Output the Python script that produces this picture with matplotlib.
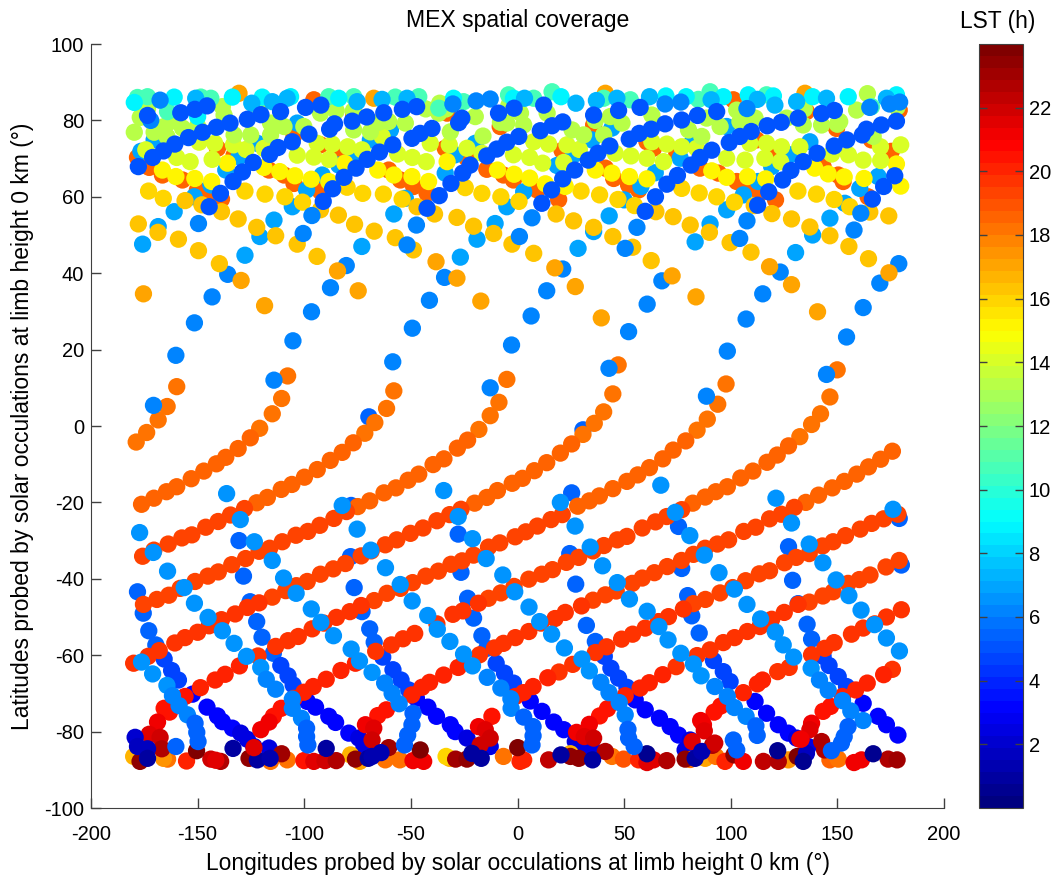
# MEX solar occultation coverage, lon/lat coloured by local solar time
import matplotlib
matplotlib.use('Agg')
import matplotlib.pyplot as plt
from matplotlib.colors import LinearSegmentedColormap, Normalize
from matplotlib.cm import ScalarMappable

plt.rcParams['font.family'] = ['Liberation Sans', 'DejaVu Sans']
plt.rcParams['axes.unicode_minus'] = False

# dusk tracks going up to the right, (lon, lat), one list per colour band
dusk_180 = [(-178.8,-4.2),(-173.9,-1.7),(-168.5,1.6),(-164.3,5.1),(-159.8,10.3),(-120.9,-0.6),(-115,3.2),(-110.6,7.2),(-107.8,13.1),
    (-71.6,-1.9),(-66.9,0.9),(-61.4,4.6),(-58,9.2),(-18.1,-0.9),(-12.8,2.7),(-8.7,6.2),(-5,12.2),(30.7,-2.2),(36,0.7),(40.4,3.7),(44.7,8.4),(47.2,16),
    (84.2,-1.1),(89,1.8),(93.9,5.7),(97.8,11),(132.4,-2.8),(137.9,0.4),(142.1,3.2),(146.5,7.6),(149.9,14.7)]
dusk_185 = [(-176.3,-20.5),(-170.5,-18.9),(-164.6,-17.2),(-159.8,-15.9),(-153,-13.8),(-147.1,-11.8),(-141.2,-9.9),(-136.8,-8.2),(-131,-5.9),(-125.3,-3.1),
    (-122.3,-20.1),(-117.3,-18.7),(-110.8,-16.6),(-105.8,-15.3),(-99.9,-13.4),(-93.9,-11.4),(-87.8,-9),(-82.2,-6.9),(-77,-4.4),
    (-74.9,-21.1),(-69.3,-19.6),(-62.6,-17.5),(-57,-16.2),(-51.3,-14.2),(-46.3,-12.6),(-39.6,-10.1),(-34.5,-8.6),(-28.2,-5.8),(-23.4,-3.7),
    (-20.1,-20.2),(-14.4,-18.7),(-9.4,-16.9),(-2.5,-15),(2.3,-13.7),(7.9,-11.7),(13.7,-9.6),(20.1,-7.1),(25.4,-4.7),
    (28.2,-21),(33.7,-19.6),(38.4,-18.3),(44.7,-16.4),(51.3,-14.5),(56.4,-12.8),(61.9,-10.9),(68.1,-8.6),(73,-6.3),(78.9,-3.9),
    (82.2,-20.2),(88,-18.6),(93,-17.2),(98.4,-15.9),(104.7,-13.6),(110.4,-11.8),(117,-9.5),(121.8,-7.6),(127.1,-5.2),
    (135.2,-20),(141.2,-18.1),(147.6,-16.2),(153.3,-14.5),(159.1,-12.6),(164.6,-10.7),(170.3,-8.7),(175.8,-6.6)]
dusk_191 = [(-175.8,-34.1),(-170.5,-32.5),(-163.8,-30.9),(-157.4,-29.3),(-152.7,-28.5),(-146.2,-26.5),(-140.4,-25),(-134.6,-23.3),(-128,-21.6),
    (-175.4,-46.7),(-169.1,-45.4),(-163.5,-44.3),(-158.2,-42.5),(-151.2,-40.7),(-145.2,-39.3),(-140.3,-38.2),(-134,-36.3),(-127.5,-34.7),(-121.2,-32.8),(-116.2,-32),(-110.3,-30.3),(-103.9,-28.6),(-98.3,-27.6),(-92.7,-26),(-86.1,-24.2),(-80.2,-22.4),
    (-115,-44.8),(-108.7,-43.1),(-103.7,-41.8),(-98.6,-40.7),(-92.4,-38.8),(-86.4,-37.4),(-80.7,-36),(-73.3,-34),(-68.6,-32.7),(-62,-31.1),(-56.6,-29.8),(-50.2,-28.1),(-44.3,-26.7),(-37.8,-24.8),(-31.8,-23.2),(-26.5,-21.8),
    (-67.2,-45.7),(-61.2,-43.8),(-54.9,-42.5),(-49.2,-41),(-43,-39.3),(-37.1,-38),(-31.2,-36.2),(-26,-35.3),(-20.6,-33.8),(-13.6,-31.7),(-8.3,-30.6),(-1.1,-29),(3.9,-27.7),(9.3,-26.2),(15.7,-24.5),(21,-23.2),
    (-13.6,-45.1),(-7.8,-43.7),(-1.6,-42),(5.3,-40.1),(11.4,-38.8),(16.4,-37.6),(22.9,-35.7),(28.7,-34.4),(35.4,-32.7),(40.5,-31.3),(46.8,-29.8),(51.3,-28.9),(58.5,-26.7),(64.7,-25.1),(70,-23.7),(77,-21.9),
    (35.4,-45.6),(41.2,-44.2),(46.3,-43.2),(53.8,-41.2),(58.5,-39.8),(64.2,-38.4),(70.2,-36.8),(76.9,-35.2),(82.5,-33.6),(88,-32),(93.7,-30.9),(99,-29.8),(106.1,-27.6),(111.7,-26.5),(118.2,-24.3),(123.7,-23.1),(129.8,-21.3),
    (82.5,-46.5),(88.1,-45.4),(95,-43.7),(100.9,-42.3),(107,-40.5),(113.4,-38.7),(118.2,-37.9),(125.2,-35.8),(130.7,-34.4),(136.8,-33.4),(143,-31.4),(148,-30.3),(153.8,-28.7),(160.7,-27),(166.1,-25.5),(171.7,-24.3),(178.4,-23.1),
    (136.8,-46.1),(143.2,-44.5),(148,-43.4),(155,-41.2),(160.3,-40.2),(165.3,-39),(172.8,-36.9),(179,-35.2)]
dusk_195 = [(-180,-62.1),(-173.2,-60.3),(-168,-58.8),(-160.7,-56.8),(-155.9,-55.4),(-150,-54),(-144.6,-52.3),(-138.8,-50.7),(-132.4,-49.2),(-126.7,-47.5),(-121.2,-46.3),
    (-121.7,-60.2),(-113.4,-57.7),(-107.6,-56.2),(-102.8,-55.1),(-96.3,-53.1),(-90.8,-51.6),(-84.9,-50.1),(-78.6,-48.6),(-73.3,-47),
    (-66.5,-59),(-59.1,-57.3),(-53.7,-55.7),(-48.2,-54.3),(-37.8,-51.8),(-30.3,-49.3),(-25.6,-48.4),(-18.3,-46.4),
    (-17.8,-59.9),(-10.8,-58.1),(-6.6,-56.9),(-1,-55.4),(5.3,-53.8),(11,-51.6),(17.6,-50.4),(22.4,-48.8),(30,-47.1),
    (25.9,-62.4),(36.5,-59.3),(41.8,-57.8),(48.8,-55.8),(54,-54.5),(59.9,-52.9),(66.1,-51.2),(70.8,-49.9),(77.8,-47.9),
    (74.4,-63),(84.2,-60.1),(90.3,-58.6),(96.5,-56.7),(101.8,-55.4),(107.8,-53.8),(113.7,-52.5),(119.2,-50.6),(125.1,-48.8),(131.6,-46.7),
    (122,-64.3),(127.4,-63.2),(137.9,-59.9),(144.1,-58.2),(148.5,-56.7),(156.6,-54.5),(162.1,-52.9),(167.5,-51.8),(173,-50),(180,-48.1),
    (175.8,-63.7),(19.5,-64.4)]
dusk_200 = [(-148.7,-68.5),(-141.8,-66.5),(-137.1,-65),(-130.4,-62.8),(-104.8,-71.3),(-100.2,-69.7),(-95.8,-68.2),(-89.7,-66.3),(-82.8,-64),(-76,-62.1),
    (-49.5,-70.4),(-44.8,-68.4),(-41.2,-67.1),(-34.6,-65.2),(-27.8,-63.2),(-1,-70.8),(2.8,-69.8),(7.3,-68.2),(14.2,-65.9),
    (50.5,-70.6),(57.5,-68.6),(61.8,-67.2),(68.1,-65.1),(105.9,-69.8),(112.5,-67.5),(114.9,-66.5),(152.4,-70.8),(158.6,-69.1),(164,-67.3),(171.7,-65.1)]
dusk_207 = [(-155.9,-70.8),(-165.7,-73.9),(-163.2,-74.9),(-110.8,-73.9),(-114.5,-76),(-61.5,-74.3),(-65.5,-75.8),(-12,-76),(42.2,-74),(38.5,-75.9),
    (95.3,-73.3),(92.2,-74.9),(146.8,-73.4),(143.3,-74.7)]
dusk_212 = [(-168.8,-77.5),(-116.5,-77.5),(-120.4,-79.5),(-71.3,-78.2),(-18.3,-78.7),(33.7,-78.1),(27.7,-80.2),(85.9,-77.1),(87.2,-78.2),(137.9,-77.8),(132.4,-82)]
dusk_218 = [(-172.7,-80.7),(-67.4,-79.1),(-15.1,-79.5),(31.3,-81.3),(87.6,-79.8),(137.1,-79.5),(81.9,-82.6)]

# dawn tracks going down to the right, dark ones
dawn_53 = [(-178.2,-43.4),(-175.5,-49),(-172.9,-53.6),(-169.6,-57.3),(-130.6,-30),(-128.5,-39.3),(-125.4,-46),(-122.3,-51.2),(-119.8,-55.3),(-114.5,-59.5),
    (-76.6,-42.3),(-78.3,-34.2),(-78,-20.8),(-72.9,-48.6),(-69.3,-53.1),(-67.2,-56.6),(-27.8,-28.3),(-26.5,-38.3),(-23.4,-45.1),(-20.6,-50.3),(-16.7,-54.9),(-14.4,-58.2),
    (25.4,-17.5),(24.5,-33.4),(27.3,-41.4),(32.3,-52.2),(36.5,-56.4),(75.5,-26.3),(77,-37.3),(79.8,-44.4),(81.7,-49.7),(85.2,-54.2),
    (127.1,-31.6),(129,-40.4),(131.6,-46.5),(135.8,-51.9),(137.9,-55.8),(179,-24.2),(180,-36.4),(-69.7,2.4),(30.7,-1)]
dawn_45 = [(-165.7,-61),(-162.2,-64),(-159,-66.5),(-111,-62.7),(-107.6,-65.4),(-105.2,-67.8),(-63.2,-60.5),(-58.4,-63.8),(-54.6,-66.5),(-51,-69.1),
    (-10,-62.1),(-6.1,-64.7),(-1.9,-67.3),(40.7,-60.3),(43.8,-63.4),(47.4,-66),(51.3,-68.4),(91.9,-61.4),(96.5,-64.3),(99.7,-66.9),
    (143.3,-60.3),(146.1,-62.7),(150.4,-65.6),(154.3,-68.2)]
dawn_33 = [(-152.4,-70.2),(-145.6,-73.6),(-140.7,-75.9),(-138.4,-77.4),(-133.7,-79.1),(-98.6,-72.1),(-94.7,-73.6),(-88.5,-76),(-85.3,-77.6),(-79.1,-80.4),
    (-47.4,-71.3),(-42,-73.6),(-38,-76),(-31.5,-78.2),(-29.2,-80),(6,-72),(11.5,-74.7),(17,-77.5),(21.7,-79.5),(55.2,-71.7),(59.9,-74.3),(66.6,-76.5),(71.6,-78.7),(75.5,-80.9),
    (111.4,-72.1),(116.8,-75.2),(122.3,-78.2),(127,-80.4),(162.1,-72.6),(169.1,-76),(173,-78.2),(178.4,-80.9)]
dawn_26 = [(-129.8,-80.4),(-126.7,-82),(-123.6,-83.9),(-74.4,-81.7),(-72,-83.9),(-23.7,-81.7),(-12.8,-83.9),(27.1,-82.6),(31.8,-84.8),(34.9,-84.3),(81,-82.2),(78.6,-84.8),
    (130.9,-81.7),(136.3,-83.9),(-116.5,-84.3)]

# dawn tracks, light ones, drawn over the dusk tracks
dawn_64 = [(-177.2,-27.9),(-170.8,-33.1),(-164.1,-38),(-156.3,-42.3),(-151.5,-46.4),(-145.1,-50.1),(-138.4,-53.6),(-132.9,-56.9),(-127.1,-60.3),(-120.4,-63.2),
    (-136.4,-17.7),(-130,-24.5),(-123.4,-30.3),(-115,-35.2),(-109.7,-39.8),(-103.8,-43.8),(-96.7,-47.9),(-92.2,-51.4),(-86.3,-54.9),(-78,-58.4),(-74.1,-61.5),(-68.2,-64.5),
    (-82.2,-20.8),(-75.2,-27),(-68.8,-32.5),(-61.9,-37.1),(-55,-41.5),(-49.4,-45.8),(-42.1,-49.6),(-37.6,-53.2),(-31.7,-56.4),(-25.3,-59.7),(-21.1,-62.8),
    (-34.6,-16.9),(-27.8,-23.7),(-21.1,-29.5),(-14.7,-34.7),(-6.9,-39),(-1.3,-43.4),(5.4,-47.4),(10.4,-51.2),(16,-54.5),(22,-58.1),(30.2,-61),(33.7,-64.1),
    (20.1,-20),(27,-26.2),(34.1,-31.7),(39.9,-36.6),(46.8,-41),(52.5,-45.3),(60.8,-48.5),(66.3,-52.5),(70.6,-56),(76.6,-59.5),(82.5,-62.3),(86.1,-65.4),
    (67.2,-15.5),(74,-22.6),(80.8,-28.7),(87.6,-33.8),(94.5,-38.4),(101.7,-42.7),(107.6,-46.7),(114,-50.5),(120.9,-53.9),(124.6,-57.3),(129.5,-60.5),(137.7,-63.4),
    (121.2,-18.9),(128.5,-25.4),(136.8,-30.9),(143.2,-35.8),(149.4,-40.3),(155.4,-44.4),(161.1,-48.2),(167.4,-52),(173,-55.5),(179.1,-58.9),(176.1,-21.8),
    (-176.3,-61.8),(-171.1,-64.9),(-164.4,-67.9)]
dawn_60 = [(-161.8,-70.6),(-158.7,-73.2),(-154.8,-75.6),(-117.8,-66.3),(-113.4,-68.9),(-105.6,-71.5),(-105.6,-73.9),(-101.3,-76.5),(-62.3,-67.3),(-58.8,-70),(-55.5,-72.7),
    (-14.2,-65.8),(-7.8,-68.6),(-3.1,-71.4),(-3,-73.9),(39.1,-67.1),(42.9,-69.8),(47.7,-72.4),(50.5,-75.6),(92.5,-68.2),(98.4,-70.8),(101.7,-73.7),(107.2,-76),
    (141.6,-66.5),(145.7,-69.2),(152.4,-71.9),(156.3,-74.6),(162.1,-77.1)]
dawn_53_tail = [(-151.2,-77.8),(-150.4,-80.2),(-149.8,-82.6),(-98.9,-79.1),(-98.9,-81.3),(-98.3,-83.5),(-49,-75.2),(-49.5,-78.2),(-51.5,-80.9),(-53,-83.5),
    (2.9,-76.2),(7.3,-78.7),(7.3,-81.1),(6.8,-83.5),(51.8,-79.4),(52.1,-81.7),(54.7,-83.9),(111.8,-78.5),(112.4,-81),(155,-78.7),(153.2,-81.3),(151.9,-83),(147.2,-85),
    (101.2,-82.2),(102.8,-84.8),(-160.2,-83.9)]

# around the south pole, (lon, lat, lst)
pole_points = [(-180,-86.5,16.5),(-164.1,-87.2,18),(-166,-87,17.5),(-155.2,-87.7,20),(-115.8,-87.8,18),(-108,-87.4,18),(-78.3,-86.1,16.5),(-74,-87.8,17),(-62,-87.4,18),(-55.2,-87.4,18),
    (-31.8,-87,16.5),(-33.5,-86.5,16),(-6.6,-86.5,18),(24.8,-85.8,16.5),(44.3,-86.5,18),(49.7,-87.2,19),(81,-87.3,18),(88,-87,17),(93,-86.5,18),(127,-87.4,17.5),(146.5,-87.4,18.5),(150.4,-87.2,18),
    (-143.8,-87.2,22),(-139.2,-87.8,22.8),(-141.5,-87.5,21.5),(-177,-87.8,23.5),(-125.9,-87,23.5),(-100.2,-87.6,20.5),(-95.5,-87.8,21.5),(-90.3,-87.6,21.8),(-85,-87.6,22.8),(-76,-87.2,23.6),
    (-49,-87.6,21),(-44,-87.8,21),(-29,-87.2,23),(-23.7,-87.2,23.4),(1.2,-87.8,20),(2.9,-87.4,20),(14.6,-87.4,22.3),(24.8,-86.5,23.6),(28.7,-87,23.4),(56.8,-87.4,20),(60.7,-88.1,21.4),(63.8,-87.4,21.4),(70,-87.6,22.8),(78.6,-87.2,23.4),
    (97.3,-87.8,20),(101.5,-86.1,23.4),(105.9,-87.8,21),(115.3,-87.8,22.3),(122.3,-87.8,22.6),(131.2,-86.5,23.7),(157.8,-88.1,21),(161.3,-87.4,21),(173.8,-87.2,22.6),(178,-87.4,23.2),
    (-167.6,-81.5,22),(-166.8,-84.5,22.6),(-150.5,-85,23.7),(-110.6,-85.8,23.2),(-60.4,-84.2,23.2),(-45.6,-84.8,23.7),(0.1,-84.2,23.7),(35.7,-81.7,22),(41.2,-85.2,22.8),(91.4,-83.6,22.6),(142.6,-82.6,22.6),(144,-84.8,22.6),
    (-68.2,-82.2,22),(-12.8,-81.7,22),(-17.5,-83.5,22),
    (-179.3,-81.5,2),(-178.2,-83.9,1.6),(-173.5,-84.5,1.6),(-173.5,-87,0.8),(-133.4,-84.4,0.8),(-122,-87.4,1),(-116,-87,1.4),(-89.7,-84.4,0.8),(-70,-87,1),(-68.2,-86.5,1.3),(-64,-85.5,1.4),
    (-21.4,-85.7,1),(-17,-87,1),(20.4,-86.1,0.8),(35.2,-87.4,0.8),(60.7,-85.8,0.6),(83.3,-87,0.9),(86.4,-85.2,1.4),(122,-85,0.6),(135.5,-85.7,1.5),(134,-87.8,0.6),(166.8,-85.8,0.6),
    (-123.6,-84.2,21.5),(133,-82,21),(92.5,-83,22)]

# northern belt, dawn side light blue, then the rest on top
tail_64 = [(-170.7,5.4),(-160.2,18.5),(-151.5,27),(-143.2,33.8),(-135.9,39.7),(-114.2,12),(-105.3,22.3),(-96.6,29.9),(-87.7,36.2),(-80.3,42),
    (-58.5,16.8),(-49.3,25.6),(-41.3,32.9),(-34.2,38.9),(-12.8,10),(-2.8,21.2),(6.4,28.8),(13.7,35.4),(21.2,41.1),(42.9,15.1),(52.1,24.7),(60.8,31.9),(67.7,38),(88.6,7.8),(98.4,19.6),(107.2,28),(115,34.6),(123.2,40.3),
    (144.9,13.5),(154.3,23.3),(162.1,31),(169.9,37.4),(178.8,42.5)]
belt_orange = [(-178.2,70.3),(-172.7,67.7),(-166.5,65.7),(-157.1,64.4),(-150.1,61.8),(-145.4,60.9),(-138.8,59.4),(-140.7,72.7),(-150.1,77.5),(-132.9,70.9),(-116.5,67),(-109.5,65.7),(-104.8,63.5),(-92.4,61.4),(-104.8,76.2),(-92.4,73.6),(-82.2,71.4),(-76.8,81.4),(-64.3,78.4),
    (-54.9,64.4),(-48.7,62.7),(-42.4,60.9),(-60.4,67),(-33.9,72.7),(-23.7,70.1),(-14.4,67.2),(-6.6,65.7),(-1.9,64.4),(-8.1,78.4),(-33,81.9),(9.2,61.8),(19.3,59.3),(35.7,78.8),(20.9,72.1),(41.2,67.5),(45.1,64.8),(52.1,63.1),(56.8,61.8),(60.7,74.4),(63.8,72.7),(74.7,71.4),
    (85.6,67.5),(94.2,66.2),(102.8,64),(108.2,62.7),(113.7,60.9),(121,59.2),(112.1,74.9),(120,71.8),(135.5,82.3),(149.6,77.9),(143.3,67.9),(150.4,65.7),(152.7,64),(166,74.9),(175.3,71.9),(164.4,60),(179,82.7),(-95.5,85.4),(101.2,85.4)]
belt_blue = [(-175.8,47.6),(-168.5,52.2),(-161,56.1),(-127.8,44.7),(-120.8,49.6),(-114.2,53.9),(-105.6,57.4),(-98.9,61.8),(-91.6,65.7),(-83.8,68.3),(-76.8,70.9),(-69,74.9),(-59.6,77.5),(-73,47),(-58,55.5),(-52.6,59.6),(-33.9,66.2),(-29.2,71),(-19.8,74),
    (-26.8,44.2),(-19,48.9),(-10.5,53),(-5,57.4),(-151.6,60),(-143.8,63.1),(-136.8,67),(-130.6,70.5),(-122,74),(-103.3,79.3),(-170.4,74.9),(-176.6,71.9),(2.9,61.3),(18.5,68.2),(26.3,71),(34.9,74.9),(44.3,78),(28.4,46.5),(35.7,50.9),(43,55),(50,59.2),(57.9,62.7),(64.6,66.3),(76.3,70.1),(81.7,74),(98.1,78.4),
    (83.3,48.2),(90.3,52.9),(98.1,56.6),(105.9,60.5),(112.9,64),(119.2,67.9),(127.7,71),(137.1,74.4),(130.4,45.4),(138.4,50),(146.5,54.4),(153.5,58.3),(160.5,62.2),(169.1,65.3)]
belt_amber = [(-175.4,34.6),(-129.6,38.1),(-118.6,31.5),(-84.4,40.6),(-74.7,35.4),(-38.2,43),(-28.4,38.7),(-17.2,32.7),(17.5,41.4),(27.1,36.5),(39.3,28.3),(72.5,39.3),(83.7,33.8),(118.2,41.7),(128.5,37),(140.7,29.9),(174.2,40.1),(-130.6,87.1),(-67.4,85.8),(41.2,87.1),(134.8,87.1)]
belt_gold = [(-139.8,42.5),(-149.6,45.9),(-103.3,47.6),(-94,44.4),(-48.8,46.1),(-2.6,47.6),(7.6,45.2),(54,46.8),(62.7,43.3),(99.7,48),(109.5,45.5),(155.4,47),(164.6,43.8),
    (-177.8,52.9),(-168.6,50.7),(-159,48.9),(-138.8,56.1),(-131,54.2),(-122.3,52),(-113.4,49.8),(-155.9,59),(-148,57.9),(-92.4,56.6),(-84,55.2),(-76.4,52.8),(-67.2,51),(-57.3,49.3),(-47.1,57.4),(-38.9,55.5),(-28.4,54.6),(-20.6,52.3),(-11.2,50.4),
    (18.1,55.5),(26.3,53.7),(35.7,52),(44.7,49.6),(64.9,56.1),(73,54.8),(81,52.6),(90,50.7),(111,57.7),(119.3,55.6),(128.5,54.2),(137.1,52.1),(146.5,49.8),(165.2,56),(174.1,55)]
belt_yellow = [(-166.1,59.6),(-173,61.5),(-127.8,61.5),(-118.4,60.7),(-109.1,60),(-100.8,58.6),(-79.9,62.5),(-72.6,60.9),(-62.9,60.7),(-54.1,59.4),(-24.5,62.4),(-16.7,60.9),(-7.8,60),(0.7,58.8),(29.8,61.5),(38.5,60.5),(47.1,59.3),(54.9,57.7),
    (77,62.2),(85.2,61),(93.4,60),(101.7,58.6),(131.5,61.5),(140.2,60.7),(148.5,59.3),(155.8,57.4)]
belt_lemon = [(-166.5,67),(-160.2,65.3),(-151.3,64.8),(-143.4,64),(-111.5,66.6),(-104.4,65.5),(-96.7,64.6),(-88.5,64),(-65.5,67),(-58,65.7),(-49.5,65.3),(-41.7,64),(-9.4,67),(-1.6,65.9),(5.7,64.9),(13.1,63.4),(22.4,62.7),(36.5,67),(44.3,66.2),(52.5,65.3),(60.7,64.7),
    (91.1,66.8),(98.1,65.1),(107.9,65.3),(116.4,64.7),(139.4,67.5),(145.7,66),(153.2,65.2),(162.5,64.8),(-118.9,67.7),(-136,68.8),(-81,68.8),(-33,69.2),(177.7,68.6),(179.7,62.8)]
belt_lime = [(-174.3,72.3),(-159.8,70.3),(-153.5,69.2),(-143.2,69.8),(-142,74),(-133.2,73.6),(-127.3,72.4),(-103.3,70.9),(-95.5,70.4),(-88.3,69.8),(-79.6,73.1),(-72.9,72.3),(-56.2,71.2),(-49.3,70.3),(-42.8,69.2),(-32,73.6),(-23.7,72.7),(-16.7,71.4),(-1.9,71),
    (-86.9,73.8),(-118.9,72.7),(-93.9,74),(-63.5,75.8),(-40.9,74),(-149.3,74.3),(5.7,70.3),(11.8,68.8),(21.7,69),(29,72.4),(45.8,71.4),(53.2,70.7),(60.7,70.1),(68.5,69.2),(98.1,70.1),(106.7,69.6),(116,70.1),(123.4,69.2),(155.2,71),(162.1,69.6),(170.3,69.5),
    (7.6,74.4),(14.6,73.8),(23.2,73.6),(63,74.4),(70,73.8),(77,73.1),(84,72.7),(109,74),(116.8,74),(123.8,73.1),(132.4,73.1),(147.3,71.2),(170.2,73.1),(179.7,73.6)]
belt_green = [(-115.8,76.2),(-125.1,76.2),(-132.9,76.2),(-170.4,76.9),(-164.4,75.8),(-69,77),(-52.6,79.3),(-31.5,77),(-16.2,75.9),(-179.7,76.9),(-165.7,78.4),(-157.1,78),(-176.9,80.8),(-162.6,79.7),(-137.6,81.4),(-115.8,79.3),(-109.5,78.4),(-100.2,78.4),(-92.4,81.9),(-76.8,77.5),(-60.4,79.7),(-36.9,81.9),(-19.8,81),(-5,79.3),
    (2.9,78.8),(25.6,77.5),(31,76.2),(40.4,76.2),(49,79.3),(80.2,77.5),(86.4,75.8),(95,78.4),(104.3,79.7),(111.4,80.6),(134,78.8),(142.6,78.8),(151.1,79.7),(159,82.7),(164.1,87),(166.8,75.8),(1.4,81.9),(13.9,81.9),(43.5,81),(63,81.4),(88.7,80.6),(102.8,82.7),(126.2,80.6),
    (-173.5,83),(-138.4,83.6),(-36.5,84.5),(-4,84),(-43,83),(-85,82.5),(-121,83),
    (-77,82.5),(134.5,83),(178,83.5),(-33.5,83),(36.5,80),(-65,79.5),(-8,79.5),(150,79),(-150,78.5)]
top_sea = [(-178.2,86),(-173.5,86.2),(-148.5,86.1),(-143.8,85.8),(-88.5,86.2),(-76.8,86.2),(-57.3,86.1),(-46.3,86.2),(-36.9,83.2),(-25.3,84.9),(-4.2,86.7),(-164.1,82.3),(16.2,87.5),(7.6,85.8),(40.4,85.8),(52.9,85.4),(90.3,87.5),(116.8,86.7),(84.8,85.5),(166,83.6)]
top_cyan = [(-179.7,84.7),(-161,86.1),(-133.7,86.1),(-119.7,86.1),(-106.4,86.2),(-83.8,85.8),(-30,85.8),(-1.9,85.8),(-150,81),(20.4,86.2),(69.6,86.4),(79.1,86.2),(96.5,86.2),(108.2,86.7),(120,86.4),(138.4,86.2),(155.1,86.2),(177.7,86.7)]
top_sky = [(-150.9,85.8),(-124.6,84.5),(-115,84.9),(-108,85.8),(-75.2,84.9),(-63.5,85.5),(-51.8,85.8),(3.3,85.8),(27.4,84.5),(37,85.2),(46.6,85.8),(61.9,86.2),(90.8,85.4),(112.5,85.5),(120.7,84),(130.9,84.9),(144.9,85.8),(173,85.8)]
top_mid = [(-167.6,85.3),(-30.3,84.3),(-19.4,85.1),(-12.8,85.6),(69.2,84.3),(76.6,84.8),(107.6,83.1),(165.2,83.4),(174.5,84.3),(179.2,84.8),(-172,80),(-149.6,53),(-100.5,50.4),(-51.8,47.4),(0.9,49.6),(50.5,46.5),(104.2,49.1),(157.8,51.3),
    (-96.4,55.1),(-47.4,52.6),(6.8,54.5),(56,52),(107.6,53.7),(161,55.7)]
top_dark = [(-177.8,67.9),(-171.1,70.3),(-166,72),(-160.7,73.8),(-154.3,75.5),(-147.7,76.9),(-141.2,78.2),(-134.8,79.3),(-126.7,80.3),(-120.3,81.5),(-111.1,82.3),(-99.4,83.4),(-92.2,84),(-173.5,81.3),(-157.9,82),(-151.3,82.9),(-145.6,83.8),
    (-144.6,57.4),(-139.3,60.9),(-133.4,64),(-129,66.5),(-123.9,69),(-116.2,71.1),(-112.3,72.9),(-105.6,74.4),(-97.8,76.4),(-88.1,77.7),(-85.8,79.1),(-77.5,79.8),(-70.7,80.9),(-62.7,82),(-54,82.9),(-47.3,83.6),
    (-91.1,58.8),(-86.7,62.1),(-81.4,65.1),(-75.7,67.5),(-70.5,69.8),(-64.7,71.7),(-58.5,73.6),(-49.5,75.3),(-45.6,76.6),(-40.1,77.9),(-27.6,79.4),(-26.1,80.6),(-8.9,81.9),(-1.6,83.2),
    (-42.4,57),(-36.7,60.3),(-31.2,63.5),(-25.7,66.2),(-22.2,68.3),(-14.4,70.7),(-9.7,72.5),(-5,74.3),(0.6,75.8),(10.7,77.3),(16.2,78.6),(21.2,79.6),(35.7,81.4),(47.4,82.6),(57.5,83.4),(12.3,84),
    (11.4,58.3),(16,61.8),(21.2,64.7),(26.8,67),(33.2,69.6),(37.7,71.4),(43.3,73.3),(52.4,75.1),(57.1,76.6),(62.7,77.7),(69.2,79.1),(77,80.1),(84.4,81.3),(93.4,82.3),
    (59.9,56.2),(64.7,60),(70,63.3),(75,65.6),(81.4,68.3),(85.6,70.3),(91.1,72.2),(99.3,74.2),(104.3,75.8),(109.6,77.1),(117.1,78.6),(123.7,79.5),(131.6,80.6),(142.6,81.8),(148.6,82.6),
    (112.6,57.8),(117.8,61.3),(124.3,64.4),(128.2,66.9),(134,69.2),(140.5,71.4),(148.5,73.3),(154.4,74.9),(161.7,76.2),(163.6,77.7),(170.6,78.8),(177.7,79.8),
    (166.4,59.4),(171.7,62.7),(176.9,65.5)]

# draw order and LST of each list
bands = [(dawn_53, 5.3), (dawn_45, 4.5), (dawn_33, 3.3), (dawn_26, 2.6),
         (dusk_180, 18.0), (dusk_185, 18.6), (dusk_191, 19.2), (dusk_195, 19.7), (dusk_200, 20.2), (dusk_207, 20.6), (dusk_212, 21.0), (dusk_218, 21.6)]
bands_over = [(dawn_64, 6.4), (dawn_60, 6.0), (dawn_53_tail, 5.3), (tail_64, 6.3),
              (belt_orange, 18.6), (belt_blue, 6.9), (belt_amber, 16.9), (belt_gold, 16.4), (belt_yellow, 15.8), (belt_lemon, 15.3), (belt_lime, 14.2), (belt_green, 13.2),
              (top_sea, 10.5), (top_cyan, 8.8), (top_sky, 7.4), (top_mid, 6.0), (top_dark, 5.2)]

colorbar_ticks = [2, 4, 6, 8, 10, 12, 14, 16, 18, 20, 22]

# matlab jet, 64 levels
jet64 = LinearSegmentedColormap('jet64', {
    'red': [(0, 0, 0), (0.375, 0, 0), (0.625, 1, 1), (0.875, 1, 1), (1, 0.5, 0.5)],
    'green': [(0, 0, 0), (0.125, 0, 0), (0.375, 1, 1), (0.625, 1, 1), (0.875, 0, 0), (1, 0, 0)],
    'blue': [(0, 0.5, 0.5), (0.125, 1, 1), (0.375, 1, 1), (0.625, 0, 0), (1, 0, 0)]}, N=64)
edge = '#404040'


def draw(points, lst):
    lon, lat = zip(*points)
    ax.scatter(lon, lat, s=155, c=[lst] * len(lon), cmap=jet64, vmin=0, vmax=24, linewidths=0)


fig = plt.figure(figsize=(10.56, 8.82), dpi=100)
ax = fig.add_axes([91 / 1056, 1 - 808 / 882, 853 / 1056, 764 / 882])

for points, lst in bands:
    draw(points, lst)
lon, lat, lst = zip(*pole_points)
ax.scatter(lon, lat, s=155, c=lst, cmap=jet64, vmin=0, vmax=24, linewidths=0)
for points, lst in bands_over:
    draw(points, lst)

ax.set_xlim(-200, 200)
ax.set_ylim(-100, 100)
ax.set_xticks(range(-200, 201, 50))
ax.set_yticks(range(-100, 101, 20))
ax.tick_params(direction='in', length=7.2, width=1, color=edge, labelsize=14.5)
ax.tick_params(axis='x', pad=12)
ax.tick_params(axis='y', pad=5)
ax.spines['top'].set_visible(False)
ax.spines['right'].set_visible(False)
for s in ['left', 'bottom']:
    ax.spines[s].set_color(edge)
ax.set_title('MEX spatial coverage', fontsize=16.6, pad=12)
ax.set_xlabel('Longitudes probed by solar occulations at limb height 0 km (°)', fontsize=16.4, labelpad=6)
ax.set_ylabel('Latitudes probed by solar occulations at limb height 0 km (°)', fontsize=16.5, labelpad=7)

cax = fig.add_axes([979 / 1056, 1 - 808 / 882, 44 / 1056, 764 / 882])
cb = fig.colorbar(ScalarMappable(Normalize(0, 24), jet64), cax=cax)
cb.set_ticks(colorbar_ticks)
cax.tick_params(direction='in', left=True, right=True, length=5.5, width=1, color=edge, labelsize=14.5, pad=4)
cb.outline.set_edgecolor(edge)
fig.text(998 / 1056, 1 - 28 / 882, 'LST (h)', fontsize=16.4, ha='center', va='baseline')

plt.savefig('out.png', dpi=100)
